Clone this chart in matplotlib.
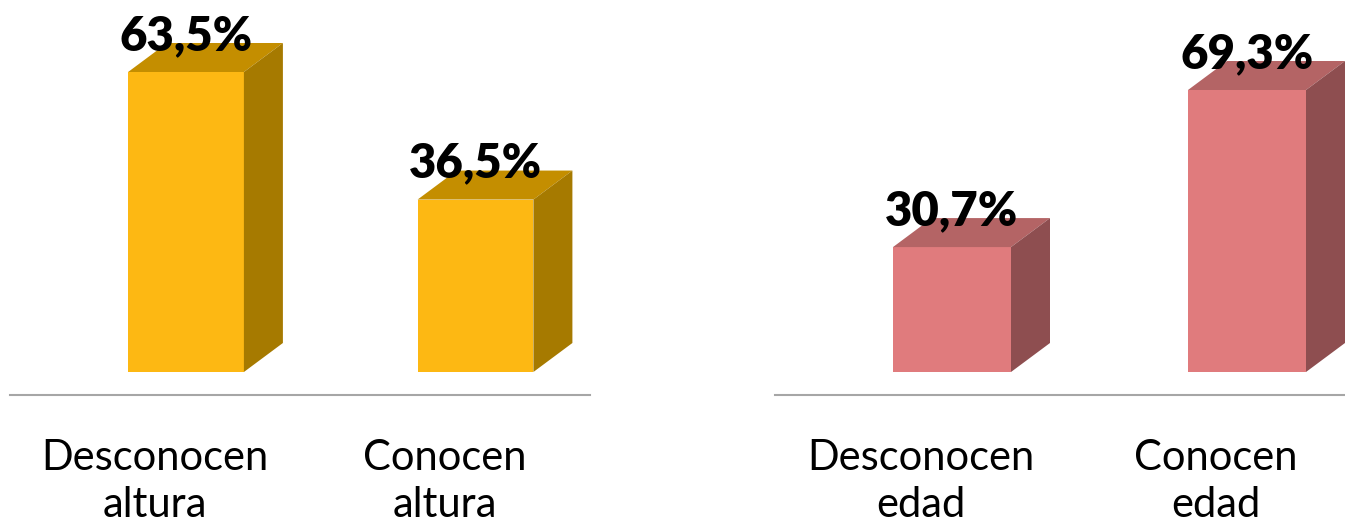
import matplotlib
matplotlib.use('Agg')
import matplotlib.pyplot as plt
from matplotlib.patches import Polygon

plt.rcParams['font.family'] = ['Lato', 'DejaVu Sans']

# data
labels_altura = ['Desconocen\naltura', 'Conocen\naltura']
values_altura = [63.5, 36.5]
labels_edad = ['Desconocen\nedad', 'Conocen\nedad']
values_edad = [30.7, 69.3]

W, H = 1345, 528
DPI = 100
DEPTH_PX = (39, 29)   # 3d offset of the bars, in pixels
LABEL_GAP_PX = 22
CAT_SHIFT_PX = -31


def px_to_data(ax, dx_px, dy_px):
    x0, x1 = ax.get_xlim()
    y0, y1 = ax.get_ylim()
    bb = ax.get_position()
    return (dx_px * (x1 - x0) / (bb.width * W),
            dy_px * (y1 - y0) / (bb.height * H))


def bars3d(ax, cats, vals, front, top, side, width=0.40):
    ddx, ddy = px_to_data(ax, *DEPTH_PX)
    _, gap = px_to_data(ax, 0, LABEL_GAP_PX)
    xs = range(len(vals))
    ax.bar(xs, vals, width=width, color=front, zorder=3)
    for x, v in zip(xs, vals):
        l, r = x - width / 2, x + width / 2
        ax.add_patch(Polygon([(l, v), (r, v), (r + ddx, v + ddy), (l + ddx, v + ddy)],
                             closed=True, color=top, lw=0, zorder=3))
        ax.add_patch(Polygon([(r, 0), (r + ddx, ddy), (r + ddx, v + ddy), (r, v)],
                             closed=True, color=side, lw=0, zorder=3))
        ax.text(x, v + gap, f'{v:.1f}%'.replace('.', ','), ha='center', va='baseline',
                fontsize=34, fontweight='heavy', color='black', zorder=4)
    for x, c in zip(xs, cats):
        ax.annotate(c, xy=(x, 0), xycoords=('data', 'axes fraction'),
                    xytext=(CAT_SHIFT_PX, -44), textcoords='offset pixels',
                    ha='center', va='top', fontsize=30, linespacing=1.28,
                    annotation_clip=False)


fig = plt.figure(figsize=(W / DPI, H / DPI), dpi=DPI)

floor = 395
ax1 = fig.add_axes([10 / W, (H - floor) / H, 580 / W, floor / H])
ax2 = fig.add_axes([775 / W, (H - floor) / H, 570 / W, floor / H])

s1 = 300 / 63.5   # px per percent, left panel
s2 = 282 / 69.3   # right panel
ax1.set_xlim(-176 / 289.5, 1 + 114.5 / 289.5)
ax1.set_ylim(-23 / s1, 372 / s1)
ax2.set_xlim(-177 / 295, 1 + 98 / 295)
ax2.set_ylim(-23 / s2, 372 / s2)

for ax in (ax1, ax2):
    for sp in ('top', 'right', 'left'):
        ax.spines[sp].set_visible(False)
    ax.spines['bottom'].set_color('#a6a6a6')
    ax.spines['bottom'].set_linewidth(1.5)
    ax.set_xticks([])
    ax.set_yticks([])
    ax.patch.set_alpha(0)

bars3d(ax1, labels_altura, values_altura, '#FDB813', '#C48E00', '#A67A00')
bars3d(ax2, labels_edad, values_edad, '#E07B7D', '#B46465', '#8E4E50')

fig.savefig('out.png', dpi=DPI)
